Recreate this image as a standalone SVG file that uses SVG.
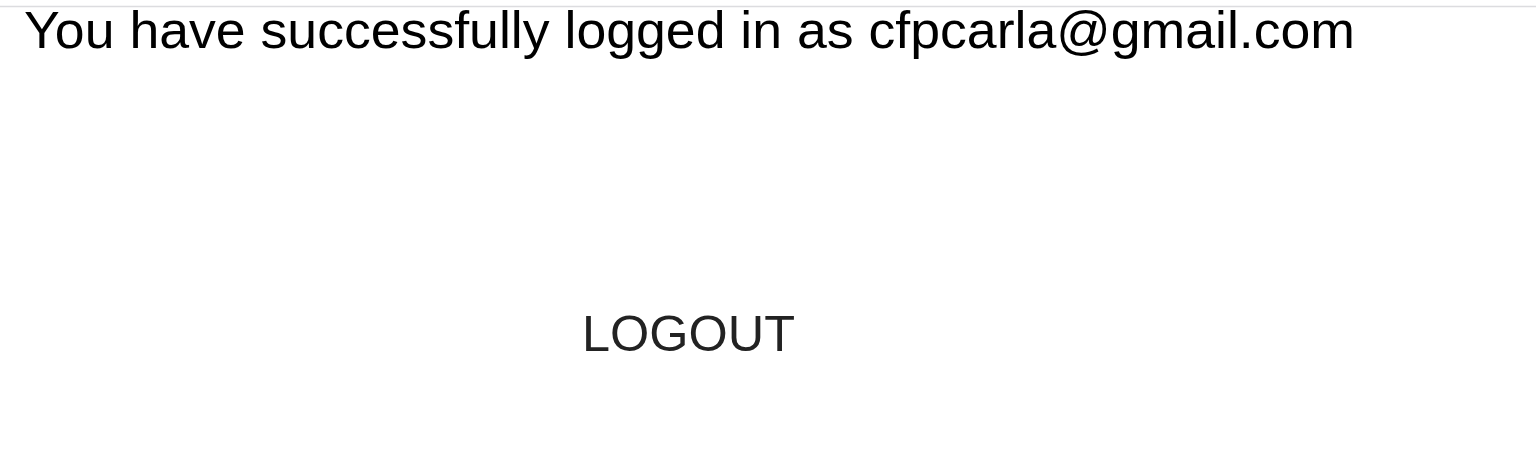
<svg xmlns="http://www.w3.org/2000/svg" width="1536" height="476" viewBox="0 0 1536 476">
<style>
.t{font-family:"Liberation Sans",Arial,sans-serif;}
</style>
<rect x="0" y="0" width="1536" height="476" fill="#ffffff"/>
<line x1="0" y1="6.5" x2="1536" y2="6.5" stroke="#dcdcdf" stroke-width="1.5"/>
<g id="message">
<text class="t" x="24" y="48" font-size="52" fill="#000000" textLength="1331" lengthAdjust="spacingAndGlyphs">You have successfully logged in as cfpcarla@gmail.com</text>
</g>
<g id="logout">
<text class="t" x="582" y="351" font-size="50" fill="#222222" textLength="213" lengthAdjust="spacingAndGlyphs">LOGOUT</text>
</g>
</svg>
